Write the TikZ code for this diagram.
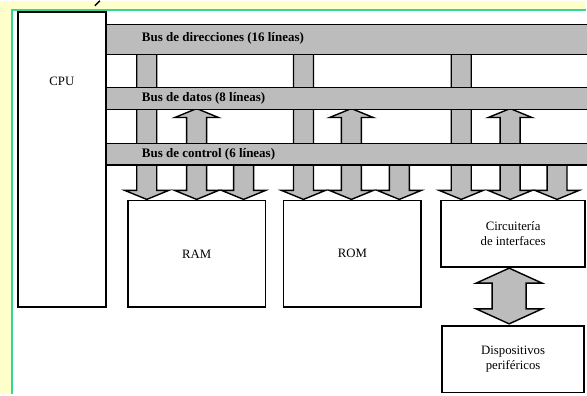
\documentclass[tikz,border=0pt]{standalone}
\usepackage{fontspec}
\setmainfont{Liberation Serif}
\usetikzlibrary{calc}
\definecolor{bgyellow}{RGB}{255,255,204}
\definecolor{edgegreen}{RGB}{50,215,150}
\definecolor{busgray}{RGB}{188,188,188}
\newcommand{\addrarrow}[2]{\path[arrowshape] (#1-10,#2) -- (#1-10,190) -- (#1-22,190) -- (#1,199) -- (#1+22,190) -- (#1+10,190) -- (#1+10,#2);}
\newcommand{\dataarrow}[1]{\path[arrowshape] (#1,108) -- (#1+22,117) -- (#1+10,117) -- (#1+10,190) -- (#1+22,190) -- (#1,199) -- (#1-22,190) -- (#1-10,190) -- (#1-10,117) -- (#1-22,117) -- cycle;}
\begin{document}
\begin{tikzpicture}[x=1pt,y=-1pt,
  box/.style={draw=black, line width=1.7pt, fill=white, inner sep=0pt, align=center, font=\fontsize{12.8}{15}\selectfont},
  txt/.style={inner sep=0pt, align=center, font=\fontsize{12.8}{15}\selectfont},
  buslabel/.style={font=\bfseries\fontsize{13}{15}\selectfont, anchor=west, inner sep=0pt},
  busnode/.style={fill=busgray, draw=black, line width=1.4pt, anchor=north west, inner sep=0pt, minimum width=500},
  arrowshape/.style={fill=busgray, draw=black, line width=1.4pt, line join=miter}]
% background
\fill[bgyellow] (0,0) rectangle (587,394);
\fill[white] (12,9) rectangle (587,394);
\draw[edgegreen, line width=2pt] (12,394) -- (12,9) -- (587,9);
\draw[line width=1.5pt] (100,0) -- (95,5);
\useasboundingbox (0,0) rectangle (587,394);
% arrows (beneath the buses)
\addrarrow{147}{40}
\dataarrow{197}
\addrarrow{244}{150}
\addrarrow{304}{40}
\dataarrow{352}
\addrarrow{400}{150}
\addrarrow{462}{40}
\dataarrow{511}
\addrarrow{558}{150}
% buses
\node[busnode, minimum height=30] (abus) at (106,23) {};
\node[busnode, minimum height=22] (dbus) at (106,86) {};
\node[busnode, minimum height=22] (cbus) at (106,142) {};
\node[buslabel] (alabel) at (142,38) {Bus de direcciones (16 líneas)};
\node[buslabel] (dlabel) at (142,97.5) {Bus de datos (8 líneas)};
\node[buslabel] (clabel) at (142,153.5) {Bus de control (6 líneas)};
% boxes
\node[box, minimum width=88, minimum height=296] (cpu) at (62,159) {};
\node[txt] (cpulabel) at (62,81) {CPU};
\node[box, minimum width=138, minimum height=107] (ram) at (197,253.5) {RAM};
\node[box, minimum width=138, minimum height=107] (rom) at (353,253.5) {ROM};
\node[box, minimum width=144, minimum height=67] (iface) at (514,233.5) {Circuitería\\de interfaces};
\node[box, minimum width=142, minimum height=67] (disp) at (514,359) {Dispositivos\\periféricos};
% double arrow between interface and devices
\coordinate (t) at ($(iface.south)+(-4,0)$);
\coordinate (b) at ($(disp.north)+(-4,-1)$);
\path[arrowshape] (t) -- ($(t)+(33,15)$) -- ($(t)+(17,15)$) -- ($(b)+(17,-15)$) -- ($(b)+(33,-15)$) -- (b) -- ($(b)+(-33,-15)$) -- ($(b)+(-17,-15)$) -- ($(t)+(-17,15)$) -- ($(t)+(-33,15)$) -- cycle;
\end{tikzpicture}
\end{document}
